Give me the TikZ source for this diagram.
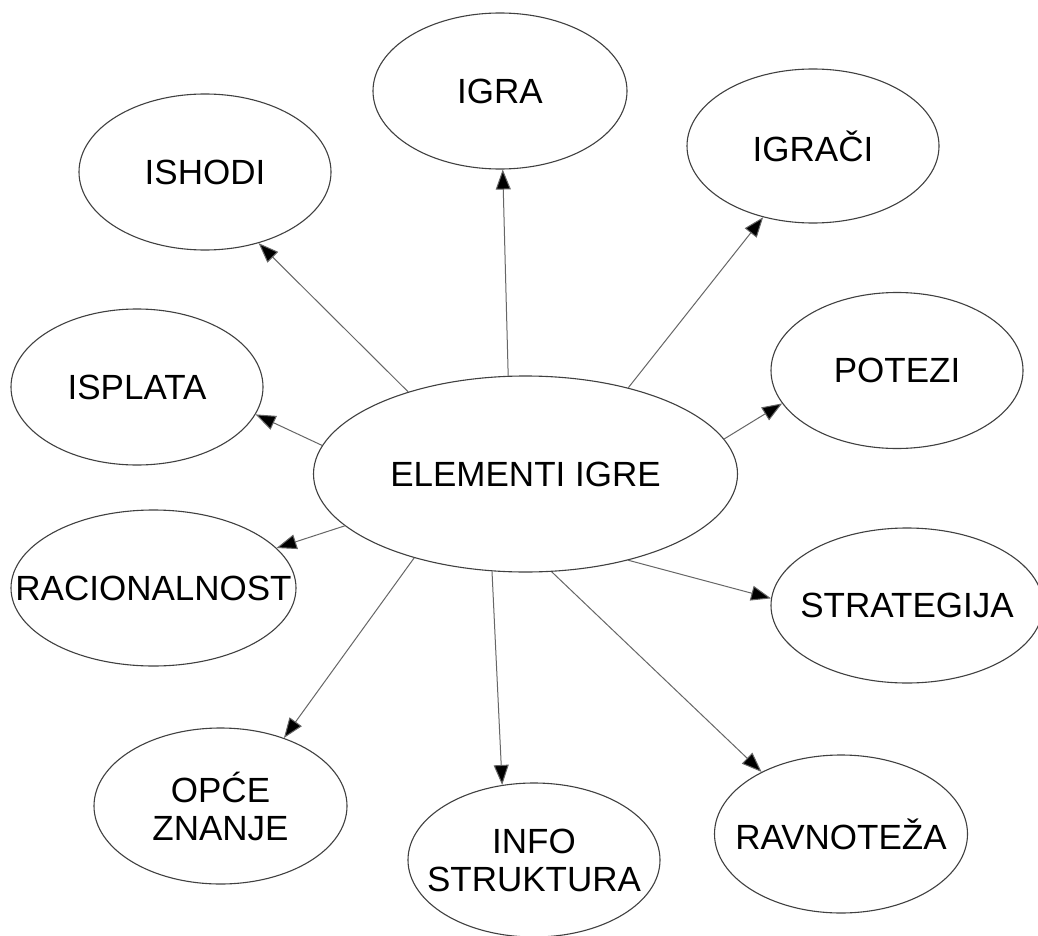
\documentclass[tikz,border=0pt]{standalone}
\usepackage{fontspec}
\setmainfont{Liberation Sans}
\usetikzlibrary{shapes.geometric,arrows.meta}
\tikzset{
  bub/.style={ellipse, draw=black!75, line width=1.1pt, fill=white,
    inner xsep=-90pt, inner ysep=-50pt,
    align=center, font=\fontsize{35}{38}\selectfont},
  link/.style={draw=black!60, line width=1pt, -{Triangle[length=20pt,width=15pt,fill=black]}}
}
\begin{document}
\begin{tikzpicture}[x=1pt,y=-1pt]
\useasboundingbox[fill=white] (0,0) rectangle (1038,936);
\node[bub, minimum width=254pt, minimum height=156pt] (igra) at (500,91) {IGRA};
\node[bub, minimum width=252pt, minimum height=154pt] (igraci) at (813,146) {IGRAČI};
\node[bub, minimum width=252pt, minimum height=156pt] (ishodi) at (205,172) {ISHODI};
\node[bub, minimum width=252pt, minimum height=156pt] (potezi) at (897,370.5) {POTEZI};
\node[bub, minimum width=252pt, minimum height=156pt] (isplata) at (137,387) {ISPLATA};
\node[bub, minimum width=424pt, minimum height=196pt] (elem) at (525.5,474) {ELEMENTI IGRE};
\node[bub, minimum width=285pt, minimum height=156pt] (rac) at (153.5,588) {RACIONALNOST};
\node[bub, minimum width=272pt, minimum height=155pt] (strat) at (907,605.5) {STRATEGIJA};
\node[bub, minimum width=253pt, minimum height=156pt] (opce) at (220.5,806) {OPĆE\\ZNANJE};
\node[bub, minimum width=252pt, minimum height=154pt] (info) at (534,860) {INFO\\STRUKTURA};
\node[bub, minimum width=253pt, minimum height=158pt] (ravn) at (841,834) {RAVNOTEŽA};

\draw[link] (elem.145.1) -- (ishodi.307.8);
\draw[link] (elem.100.8) -- (igra.272.2);
\draw[link] (elem.40.9) -- (igraci.235.2);
\draw[link] (elem.10.5) -- (potezi.196.6);
\draw[link] (elem.172.6) -- (isplata.347.8);
\draw[link] (elem.196.2) -- (rac.18.2);
\draw[link] (elem.217.7) -- (opce.47.3);
\draw[link] (elem.251.0) -- (info.113.4);
\draw[link] (elem.320.5) -- (strat.177.3);
\draw[link] (elem.285.7) -- (ravn.142.1);
\end{tikzpicture}
\end{document}
